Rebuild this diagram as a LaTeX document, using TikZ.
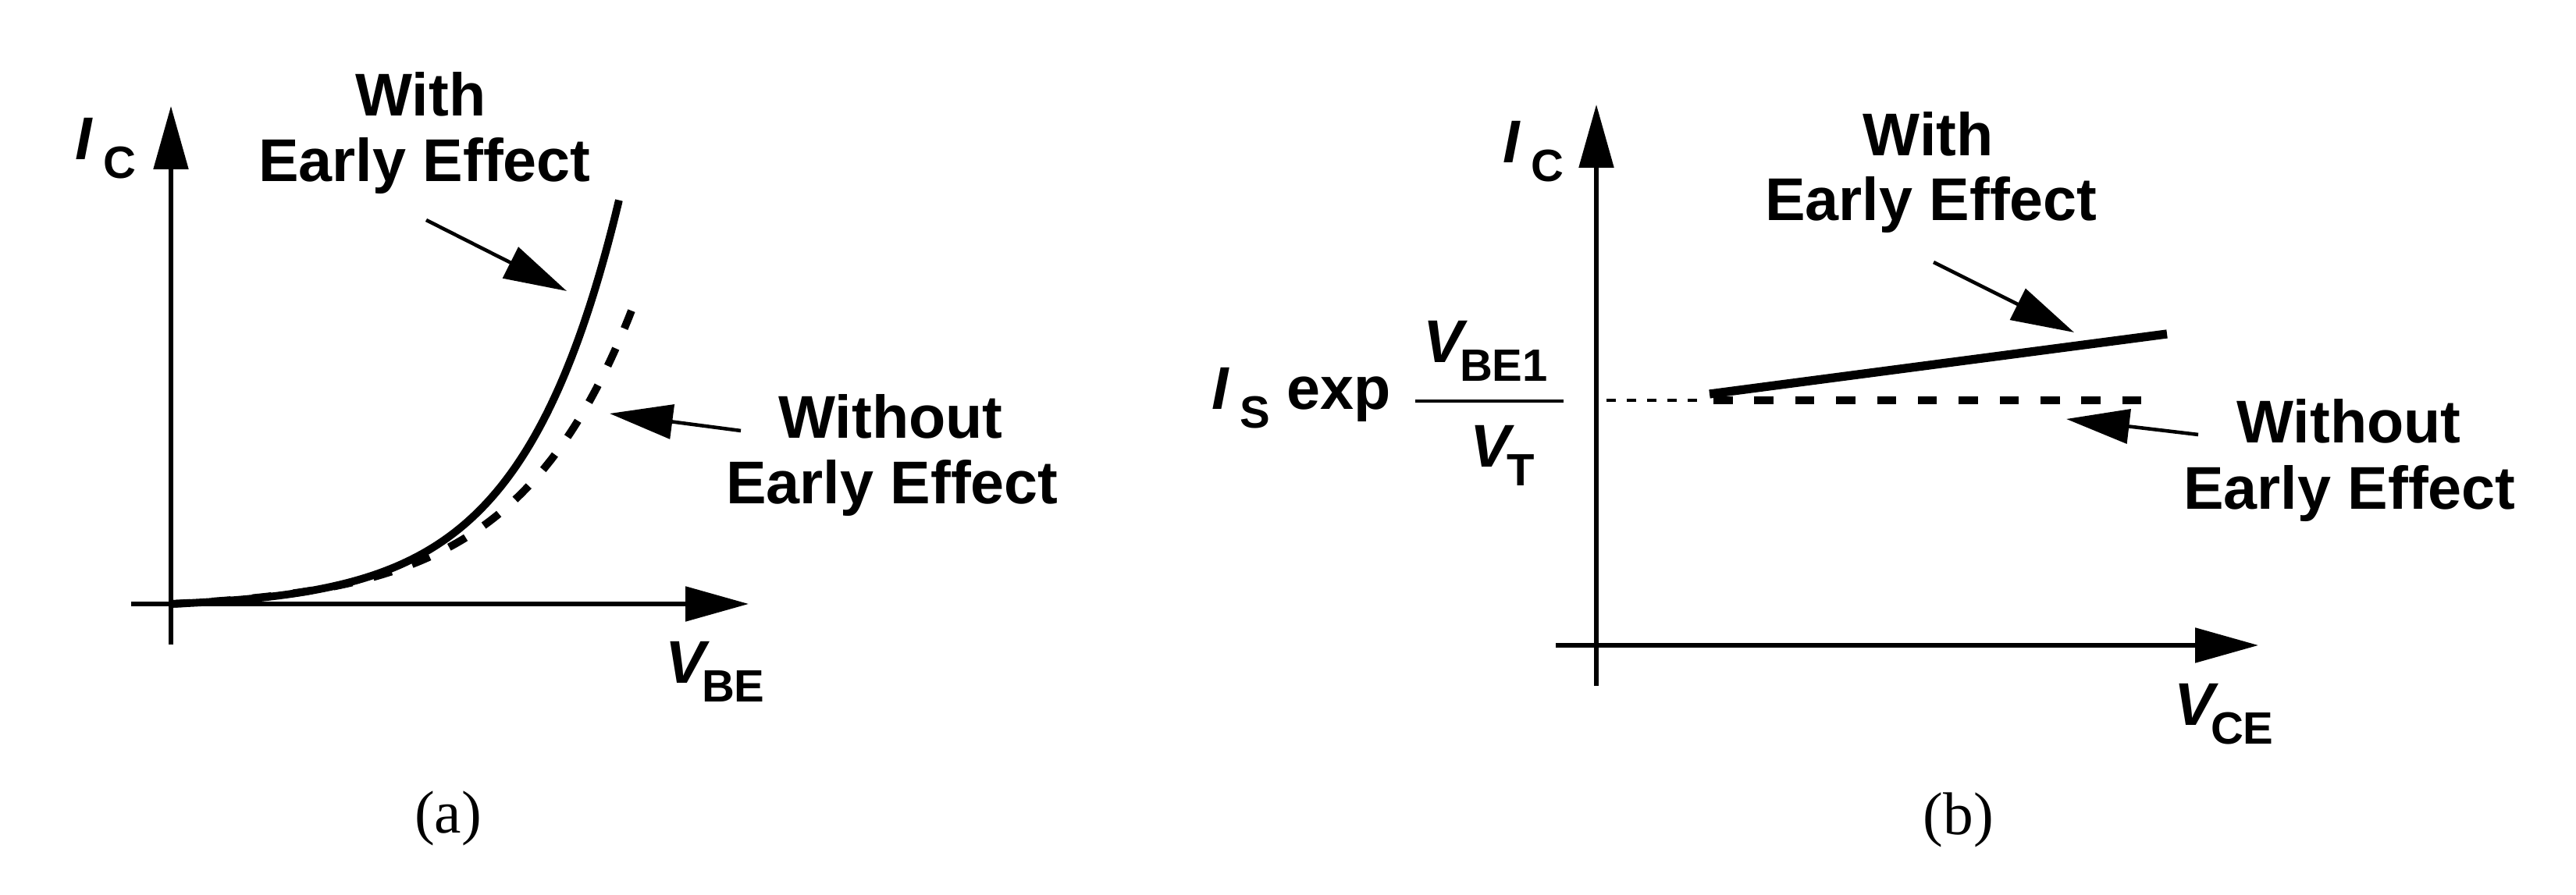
\documentclass[tikz,border=0pt]{standalone}
\usepackage{fontspec}
\setmainfont{Liberation Sans}
\newfontfamily\serifr{Liberation Serif}
\usetikzlibrary{arrows.meta}
\newcommand{\subf}{\fontsize{16.5}{18}\selectfont\bfseries\upshape}
\newcommand{\myI}[1]{{\itshape I}\kern4pt\raisebox{-6.8pt}{\subf #1}}
\newcommand{\myV}[1]{{\itshape V}\kern-1.5pt\raisebox{-6.8pt}{\subf #1}}
\begin{document}
\begin{tikzpicture}[
  txt/.style={font=\fontsize{22}{24}\selectfont\bfseries, inner sep=0pt},
  capt/.style={font=\fontsize{22}{24}\selectfont\serifr, inner sep=0pt},
  axisline/.style={line width=1.5pt, -{Triangle[length=23pt,width=12.5pt]}},
  pointer/.style={line width=1.3pt, -{Triangle[length=23pt,width=12.5pt]}},
  curvesolid/.style={line width=2.8pt},
  curvedash/.style={line width=2.8pt, dash pattern=on 7pt off 7.9pt},
  dotline/.style={line width=1.2pt, dash pattern=on 3.4pt off 4pt},
  barline/.style={line width=1.3pt}
]
\fill[white] (0,0) rectangle (33,11.47);
\useasboundingbox (0,0) rectangle (33,11.47);

% ---------------- panel (a) ----------------
\coordinate (ya0) at (2.19,3.21);
\coordinate (ya1) at (2.19,10.11);
\coordinate (xa0) at (1.68,3.73);
\coordinate (xa1) at (9.59,3.73);
\draw[axisline] (ya0) -- (ya1);
\draw[axisline] (xa0) -- (xa1);

\draw[curvedash] plot[domain=0:5.92, samples=140, smooth]
  ({2.19+\x},{3.73+0.0736*(exp(0.67*\x)-1)});
\draw[curvesolid] plot[domain=0:5.74, samples=140, smooth]
  ({2.19+\x},{3.73+0.053*(exp(0.8*\x)-1)});

\node[txt, anchor=base west] (ica) at (0.96,9.42) {\myI{C}};
\node[txt, anchor=base west] (vbe) at (8.52,2.71) {\myV{BE}};

\node[txt, anchor=base] (witha) at (5.39,9.98) {With};
\node[txt, anchor=base] (earlya) at (5.44,9.14) {Early Effect};
\node[txt, anchor=base] (withouta) at (11.41,5.85) {Without};
\node[txt, anchor=base] (earlyb) at (11.43,5.01) {Early Effect};

\coordinate (wa0) at (5.46,8.65);
\coordinate (wa1) at (7.26,7.74);
\draw[pointer] (wa0) -- (wa1);
\coordinate (woa0) at (9.49,5.95);
\coordinate (woa1) at (7.81,6.17);
\draw[pointer] (woa0) -- (woa1);

\node[capt, anchor=base] (capa) at (5.74,0.79) {(a)};

% ---------------- panel (b) ----------------
\coordinate (yb0) at (20.45,2.68);
\coordinate (yb1) at (20.45,10.13);
\coordinate (xb0) at (19.93,3.20);
\coordinate (xb1) at (28.93,3.20);
\draw[axisline] (yb0) -- (yb1);
\draw[axisline] (xb0) -- (xb1);

\coordinate (dt0) at (20.58,6.34);
\coordinate (dt1) at (21.80,6.34);
\draw[dotline] (dt0) -- (dt1);
\coordinate (ds0) at (21.95,6.34);
\coordinate (ds1) at (27.50,6.34);
\draw[curvedash] (ds0) -- (ds1);
\coordinate (sb0) at (21.90,6.42);
\coordinate (sb1) at (27.76,7.19);
\draw[curvesolid, line width=3.2pt] (sb0) -- (sb1);

\node[txt, anchor=base west] (icb) at (19.25,9.38) {\myI{C}};
\node[txt, anchor=base west] (vce) at (27.85,2.17) {\myV{CE}};

\node[txt, anchor=base west] (isexp) at (15.52,6.22) {\myI{S} exp};
\coordinate (fb0) at (18.13,6.33);
\coordinate (fb1) at (20.03,6.33);
\draw[barline] (fb0) -- (fb1);
\node[txt, anchor=base west] (vbe1) at (18.23,6.82) {\myV{BE1}};
\node[txt, anchor=base west] (vt) at (18.83,5.48) {\myV{T}};

\node[txt, anchor=base] (withb) at (24.70,9.47) {With};
\node[txt, anchor=base] (earlyc) at (24.74,8.64) {Early Effect};
\node[txt, anchor=base] (withoutb) at (30.09,5.79) {Without};
\node[txt, anchor=base] (earlyd) at (30.10,4.94) {Early Effect};

\coordinate (wb0) at (24.77,8.11);
\coordinate (wb1) at (26.57,7.21);
\draw[pointer] (wb0) -- (wb1);
\coordinate (wob0) at (28.16,5.90);
\coordinate (wob1) at (26.47,6.10);
\draw[pointer] (wob0) -- (wob1);

\node[capt, anchor=base] (capb) at (25.09,0.77) {(b)};
\end{tikzpicture}
\end{document}
